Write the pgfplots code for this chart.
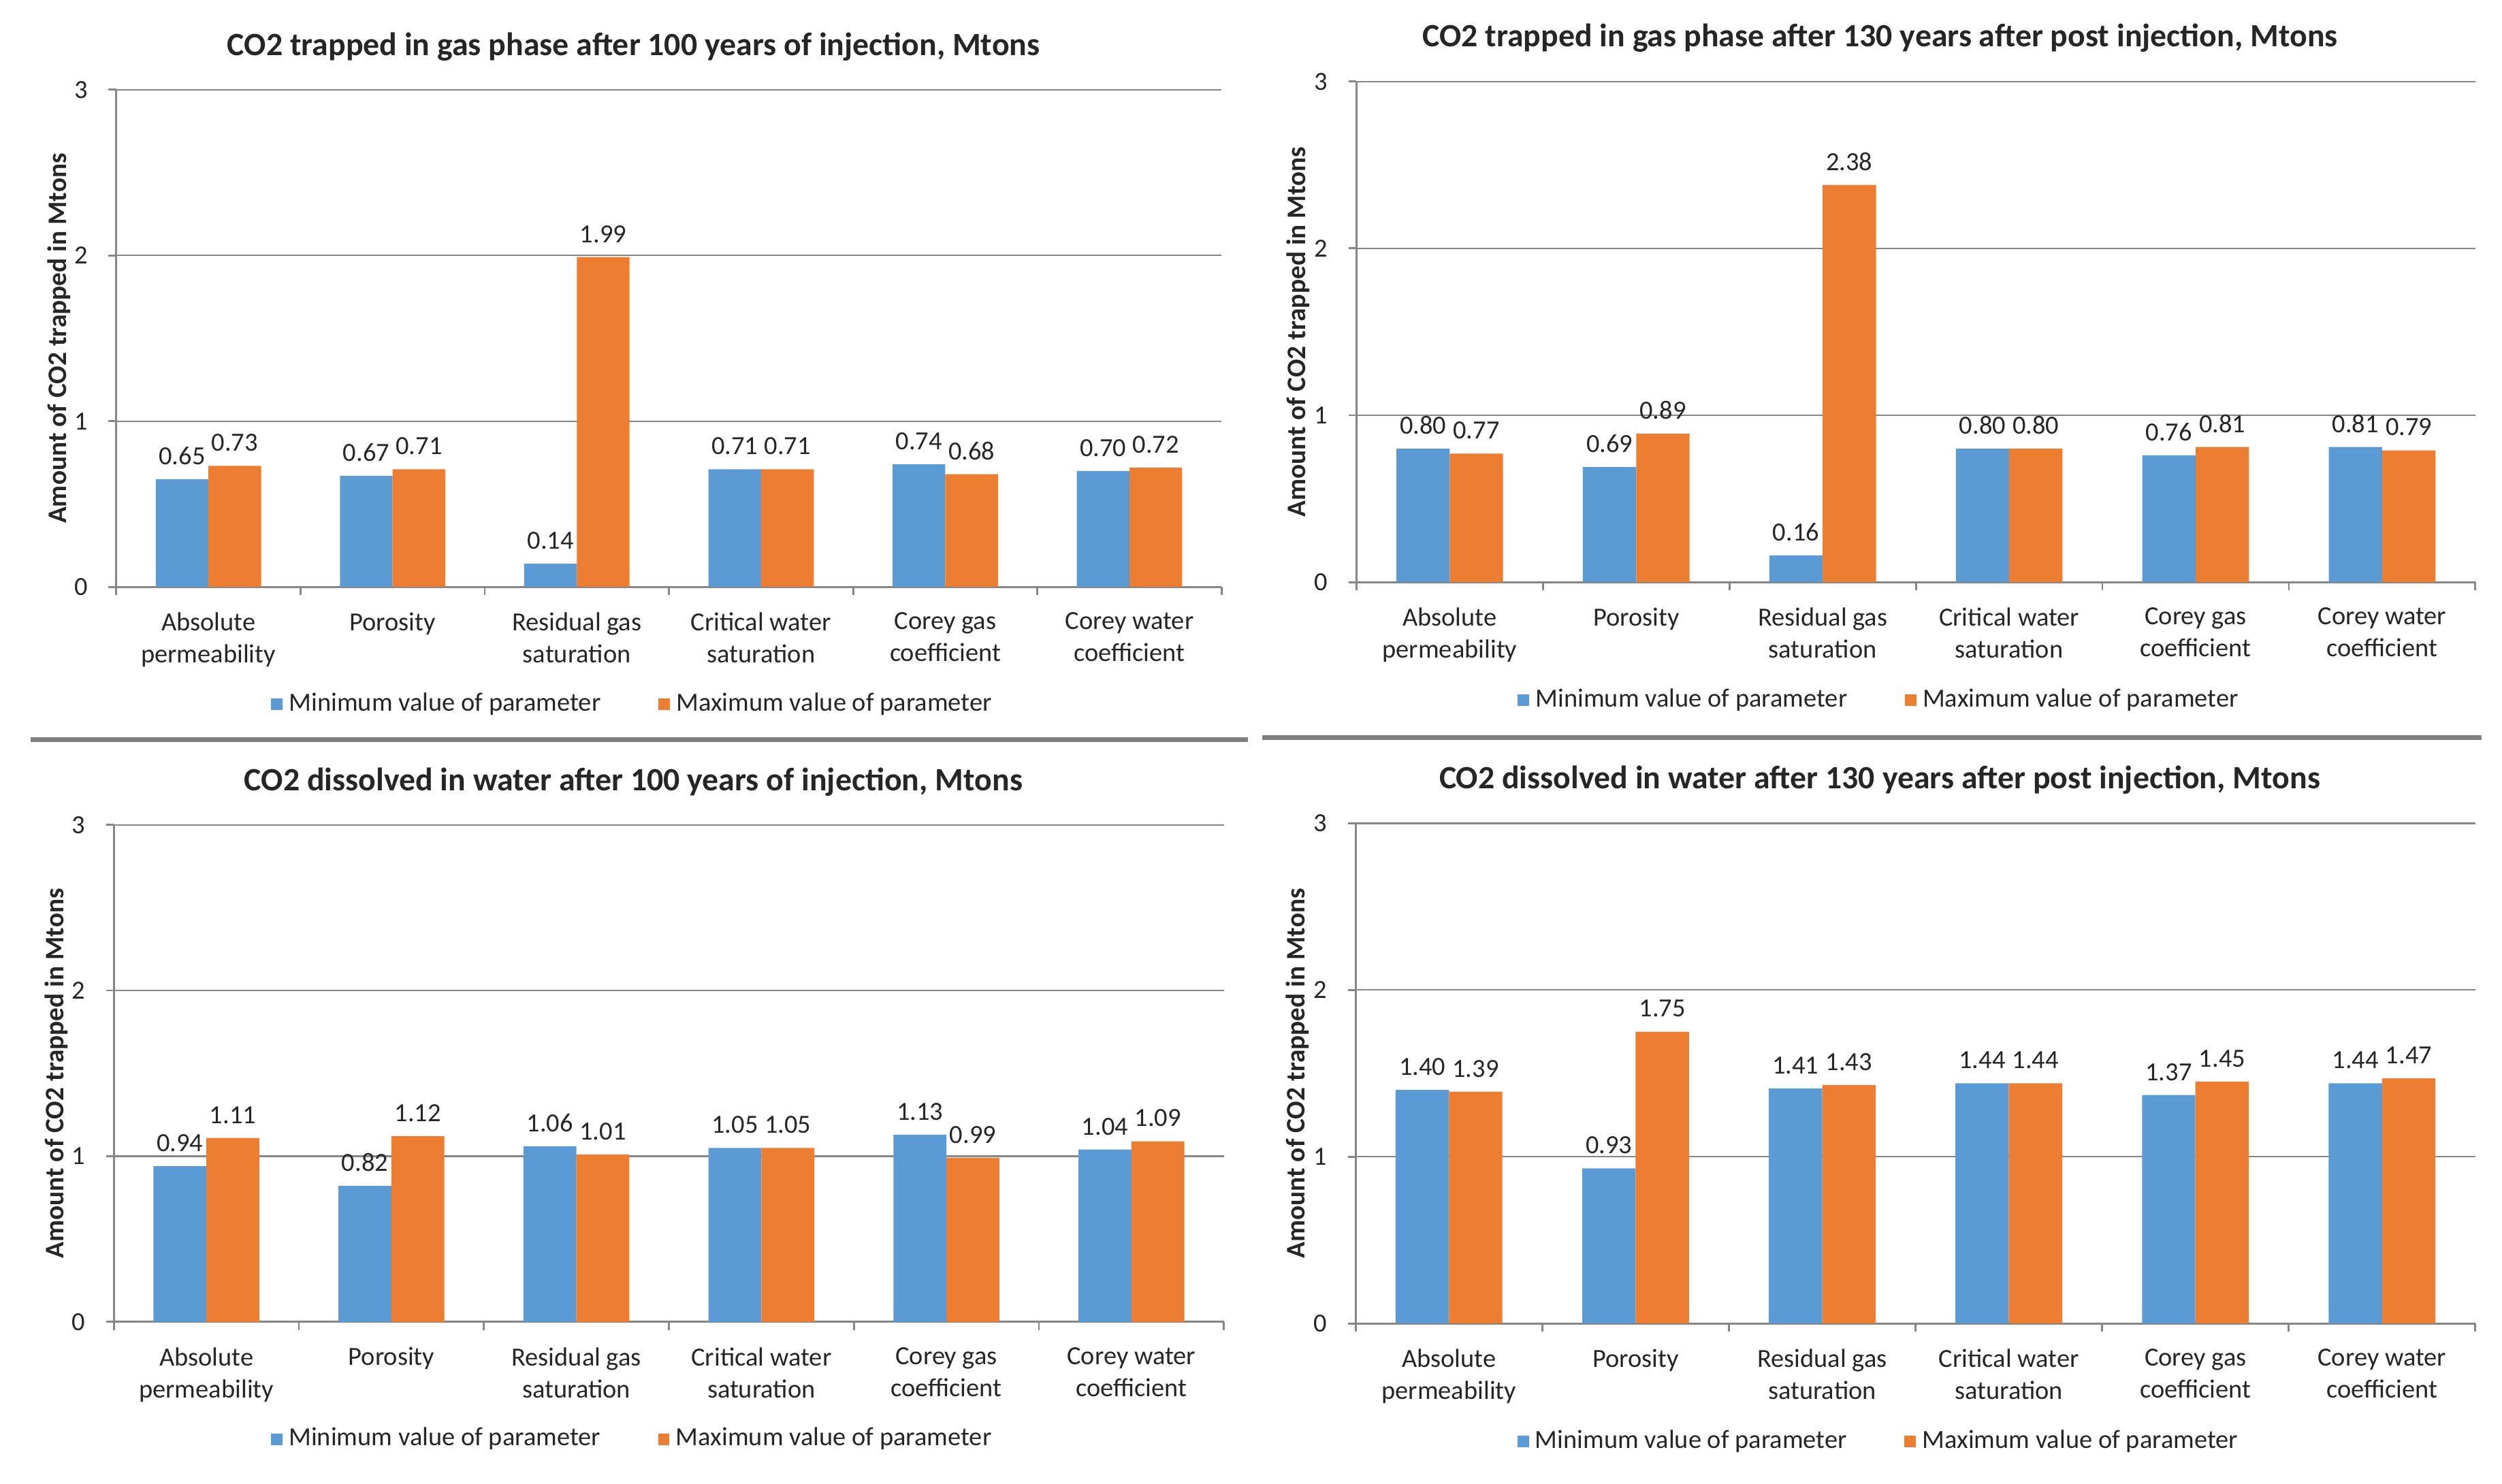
\documentclass[border=0pt]{standalone}
\usepackage{fontspec}
\setmainfont{Carlito}
\usepackage{pgfplots}
\usepackage{pgfplotstable}
\pgfplotsset{compat=1.18}

\definecolor{barblue}{HTML}{5B9BD5}
\definecolor{barorange}{HTML}{ED7D31}
\definecolor{gridgray}{HTML}{868686}
\definecolor{sepgray}{HTML}{7F7F7F}
\definecolor{txt}{HTML}{262626}

% x = category index, min / max = value of parameter
\pgfplotstableread{
x min max
0 0.65 0.73
1 0.67 0.71
2 0.14 1.99
3 0.71 0.71
4 0.74 0.68
5 0.70 0.72
}\gasinj
\pgfplotstableread{
x min max
0 0.80 0.77
1 0.69 0.89
2 0.16 2.38
3 0.80 0.80
4 0.76 0.81
5 0.81 0.79
}\gaspost
\pgfplotstableread{
x min max
0 0.94 1.11
1 0.82 1.12
2 1.06 1.01
3 1.05 1.05
4 1.13 0.99
5 1.04 1.09
}\watinj
\pgfplotstableread{
x min max
0 1.40 1.39
1 0.93 1.75
2 1.41 1.43
3 1.44 1.44
4 1.37 1.45
5 1.44 1.47
}\watpost

\pgfplotsset{
  co2panel/.style={
    scale only axis,
    anchor=south west,
    ybar, bar width=0.286,
    ymin=0, ymax=3, ytick={0,1,2,3},
    xmin=-0.5, xmax=5.5,
    axis lines=left,
    axis line style={-, draw=gridgray, line width=0.6pt},
    ymajorgrids,
    grid style={draw=gridgray, line width=0.5pt},
    tick align=outside,
    major tick length=2.5pt,
    tick style={draw=gridgray, line width=0.6pt},
    xtick={-0.5,0.5,1.5,2.5,3.5,4.5,5.5},
    xticklabels={},
    extra x ticks={0,1,2,3,4,5},
    extra x tick labels={Absolute\\permeability,Porosity,Residual gas\\saturation,Critical water\\saturation,Corey gas\\coefficient,Corey water\\coefficient},
    extra x tick style={major tick length=0pt, grid=none},
    xticklabel style={align=center, anchor=north, yshift=-4.5pt},
    tick label style={font=\fontsize{8.2}{10}\selectfont, text=txt},
    /pgf/number format/assume math mode=true,
    yticklabel style={xshift=-3pt},
    title style={at={(axis description cs:0.468,1.090)}, anchor=center, yshift=-6.5pt,
      font=\bfseries\fontsize{10.2}{12}\selectfont, text=txt},
    ylabel={Amount of CO2 trapped in Mtons},
    ylabel style={at={(axis description cs:-0.052,0.5)}, anchor=center,
      font=\bfseries\fontsize{8.4}{10}\selectfont, text=txt},
    legend style={at={(axis description cs:0.469,-0.236)}, anchor=center,
      draw=none, fill=none, legend columns=2,
      font=\fontsize{8.2}{10}\selectfont, text=txt,
      /tikz/every even column/.append style={column sep=16pt}},
    legend image code/.code={\draw[#1,draw=none] (0pt,-1.8pt) rectangle (3.6pt,1.8pt);},
    nodes near coords={\pgfmathprintnumber[fixed,fixed zerofill,precision=2,assume math mode=true]{\pgfplotspointmeta}},
    every node near coord/.append style={font=\fontsize{8.2}{10}\selectfont, text=txt, yshift=1pt},
  },
  minbar/.style={fill=barblue, draw=none, bar shift=-0.143},
  maxbar/.style={fill=barorange, draw=none, bar shift=0.143},
}

\begin{document}
\begin{tikzpicture}
\path[use as bounding box] (0,0) rectangle (784pt,465pt);

\begin{axis}[co2panel, at={(36.45pt,281.05pt)}, width=346.35pt, height=155.85pt,
  title={CO2 trapped in gas phase after 100 years of injection, Mtons}]
\addplot[minbar] table[x=x,y=min] {\gasinj};
\addplot[maxbar] table[x=x,y=max] {\gasinj};
\legend{Minimum value of parameter, Maximum value of parameter}
\end{axis}

\begin{axis}[co2panel, at={(425.05pt,282.55pt)}, width=350.6pt, height=156.9pt,
  title={CO2 trapped in gas phase after 130 years after post injection, Mtons}]
\addplot[minbar] table[x=x,y=min] {\gaspost};
\addplot[maxbar] table[x=x,y=max] {\gaspost};
\legend{Minimum value of parameter, Maximum value of parameter}
\end{axis}

\begin{axis}[co2panel, at={(35.7pt,50.75pt)}, width=347.8pt, height=155.75pt,
  title={CO2 dissolved in water after 100 years of injection, Mtons}]
\addplot[minbar] table[x=x,y=min] {\watinj};
\addplot[maxbar] table[x=x,y=max] {\watinj};
\legend{Minimum value of parameter, Maximum value of parameter}
\end{axis}

\begin{axis}[co2panel, at={(424.8pt,50.25pt)}, width=350.85pt, height=156.75pt,
  title={CO2 dissolved in water after 130 years after post injection, Mtons}]
\addplot[minbar] table[x=x,y=min] {\watpost};
\addplot[maxbar] table[x=x,y=max] {\watpost};
\legend{Minimum value of parameter, Maximum value of parameter}
\end{axis}

% separator rules between the panels
\draw[sepgray, line width=1.5pt] (9.5pt,233.25pt) -- (391pt,233.25pt);
\draw[sepgray, line width=1.5pt] (395.5pt,233.75pt) -- (777.5pt,233.75pt);
\end{tikzpicture}
\end{document}
